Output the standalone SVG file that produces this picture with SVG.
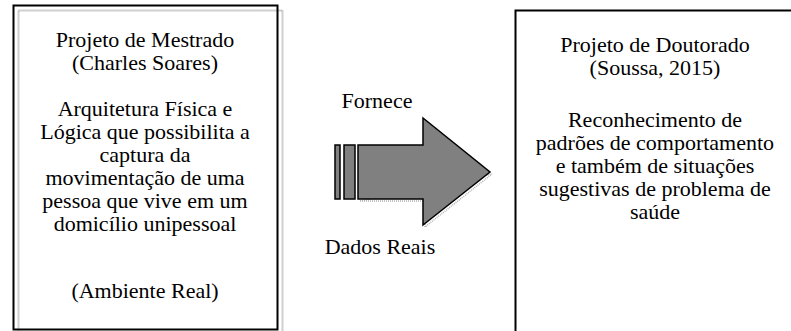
<svg xmlns="http://www.w3.org/2000/svg" width="791" height="331" viewBox="0 0 791 331">
<style>
text{font-family:"Liberation Serif","Times New Roman","DejaVu Serif",serif;font-size:22px;fill:#000;text-anchor:middle}
.box{fill:none;stroke:#000;stroke-width:2}
.shadow{fill:none;stroke:#a0a0a0;stroke-width:2;stroke-dasharray:1 1}
.arrow{fill:#808080;stroke:#000;stroke-width:1.5}
.ash{fill:none;stroke:#b0b0b0;stroke-width:1.5;stroke-dasharray:1 1}
</style>
<rect width="791" height="331" fill="#fff"/>
<g id="mestrado" font-family="Liberation Serif, serif">
<rect class="shadow" x="18.5" y="10.5" width="264" height="330"/>
<rect class="box" x="13.5" y="5.5" width="264" height="324"/>
<text x="145" y="47">Projeto de Mestrado</text>
<text x="145" y="70">(Charles Soares)</text>
<text x="145" y="116">Arquitetura Física e</text>
<text x="145" y="139">Lógica que possibilita a</text>
<text x="145" y="162">captura da</text>
<text x="145" y="185">movimentação de uma</text>
<text x="145" y="208">pessoa que vive em um</text>
<text x="145" y="231">domicílio unipessoal</text>
<text x="145" y="298">(Ambiente Real)</text>
</g>
<g id="doutorado" font-family="Liberation Serif, serif">
<rect class="box" x="515.5" y="10.5" width="300" height="330"/>
<text x="655" y="52">Projeto de Doutorado</text>
<text x="655" y="75">(Soussa, 2015)</text>
<text x="655" y="127">Reconhecimento de</text>
<text x="655" y="150">padrões de comportamento</text>
<text x="655" y="173">e também de situações</text>
<text x="655" y="196">sugestivas de problema de</text>
<text x="655" y="219">saúde</text>
</g>
<g id="connectors" font-family="Liberation Serif, serif">
<polygon class="ash" points="360,201 425,201 425,227 492,174"/>
<polygon class="arrow" points="358,145 423,145 423,118 490,172 423,225 423,199 358,199"/>
<rect class="arrow" x="335" y="145" width="5" height="54"/>
<rect class="arrow" x="344" y="145" width="11" height="54"/>
<text x="377" y="108">Fornece</text>
<text x="380" y="254">Dados Reais</text>
</g>
</svg>
